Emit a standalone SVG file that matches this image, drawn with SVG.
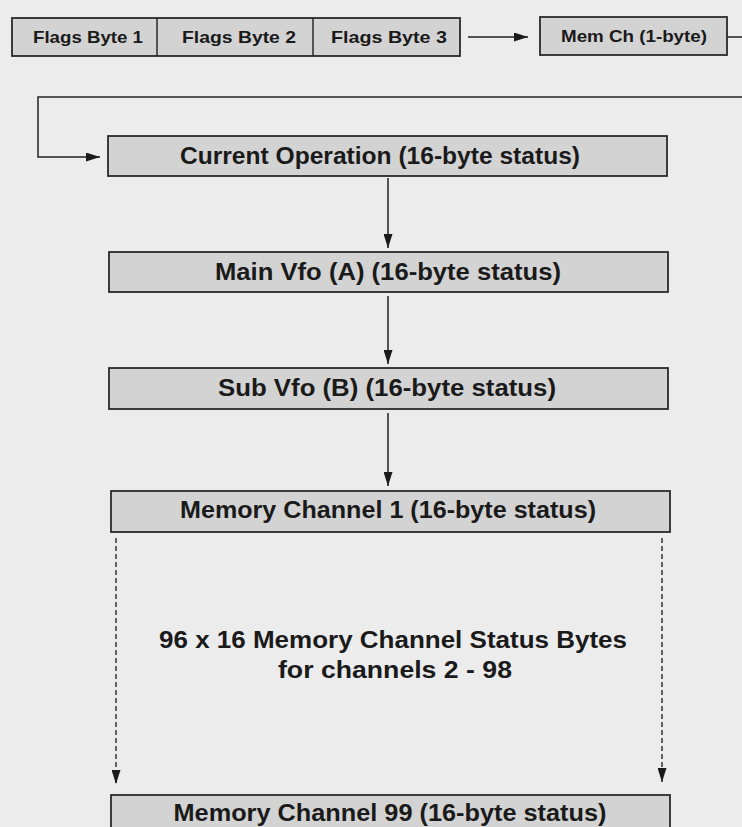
<svg xmlns="http://www.w3.org/2000/svg" width="742" height="827" viewBox="0 0 742 827">
<style>
.bg{fill:#ececec}
.box{fill:#d3d3d3;stroke:#2a2a2a;stroke-width:1.8}
.t{font-family:"Liberation Sans",Arial,sans-serif;font-weight:bold;fill:#1a1a1a;text-anchor:middle;dominant-baseline:central}
.big{font-size:23px}
.sm{font-size:17px}
.ln{fill:none;stroke:#222;stroke-width:1.5}
.dash{fill:none;stroke:#333;stroke-width:1.5;stroke-dasharray:5 3}
</style>
<defs>
<marker id="ah" viewBox="0 0 14 9" refX="14" refY="4.5" markerWidth="14" markerHeight="9" markerUnits="userSpaceOnUse" orient="auto">
<path d="M0,0 L14,4.5 L0,9 Z" fill="#1a1a1a"/>
</marker>
</defs>
<rect class="bg" x="0" y="0" width="742" height="827"/>
<g id="connectors">
<path class="ln" d="M468,37 L528,37" marker-end="url(#ah)"/>
<path class="ln" d="M727,37 L742,37"/>
<path class="ln" d="M742,97 L38,97 L38,157 L100,157" marker-end="url(#ah)"/>
<path class="ln" d="M388,178 L388,248" marker-end="url(#ah)"/>
<path class="ln" d="M388,296 L388,364" marker-end="url(#ah)"/>
<path class="ln" d="M388,413 L388,486" marker-end="url(#ah)"/>
<path class="dash" d="M116,538 L116,784" marker-end="url(#ah)"/>
<path class="dash" d="M662,538 L662,782" marker-end="url(#ah)"/>
</g>
<g id="flags">
<rect class="box" x="12" y="18" width="448" height="38"/>
<line x1="157" y1="18" x2="157" y2="56" stroke="#2a2a2a" stroke-width="1.5"/>
<line x1="313" y1="18" x2="313" y2="56" stroke="#2a2a2a" stroke-width="1.5"/>
<text class="t sm" x="88" y="37" textLength="110" lengthAdjust="spacingAndGlyphs">Flags Byte 1</text>
<text class="t sm" x="239" y="37" textLength="114" lengthAdjust="spacingAndGlyphs">Flags Byte 2</text>
<text class="t sm" x="389" y="37" textLength="116" lengthAdjust="spacingAndGlyphs">Flags Byte 3</text>
</g>
<g id="memch">
<rect class="box" x="540" y="17" width="187" height="38"/>
<text class="t sm" x="634" y="36" textLength="146" lengthAdjust="spacingAndGlyphs">Mem Ch (1-byte)</text>
</g>
<g id="current">
<rect class="box" x="108" y="136" width="559" height="40"/>
<text class="t big" x="380" y="156" textLength="400" lengthAdjust="spacingAndGlyphs">Current Operation (16-byte status)</text>
</g>
<g id="mainvfo">
<rect class="box" x="109" y="252" width="559" height="40"/>
<text class="t big" x="388" y="272" textLength="346" lengthAdjust="spacingAndGlyphs">Main Vfo (A) (16-byte status)</text>
</g>
<g id="subvfo">
<rect class="box" x="109" y="368" width="559" height="41"/>
<text class="t big" x="387" y="388" textLength="338" lengthAdjust="spacingAndGlyphs">Sub Vfo (B) (16-byte status)</text>
</g>
<g id="mc1">
<rect class="box" x="111" y="491" width="559" height="41"/>
<text class="t big" x="388" y="510" textLength="416" lengthAdjust="spacingAndGlyphs">Memory Channel 1 (16-byte status)</text>
</g>
<g id="note">
<text class="t big" x="393" y="640" textLength="468" lengthAdjust="spacingAndGlyphs">96 x 16 Memory Channel Status Bytes</text>
<text class="t big" x="395" y="670" textLength="234" lengthAdjust="spacingAndGlyphs">for channels 2 - 98</text>
</g>
<g id="mc99">
<rect class="box" x="111" y="795" width="559" height="45"/>
<text class="t big" x="390" y="813" textLength="433" lengthAdjust="spacingAndGlyphs">Memory Channel 99 (16-byte status)</text>
</g>
</svg>
